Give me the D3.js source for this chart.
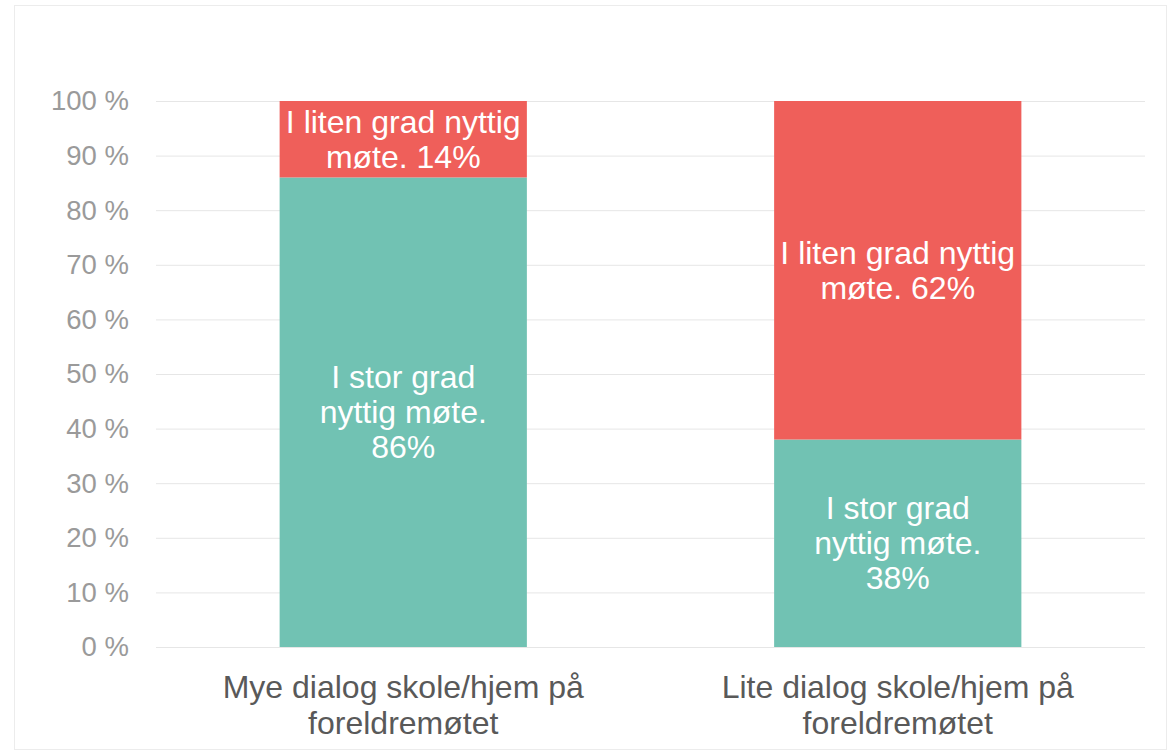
<!DOCTYPE html>
<html>
<head>
<meta charset="utf-8">
<script src="https://cdn.jsdelivr.net/npm/d3@7"></script>
<style>
    body { margin: 0; background: #fff; }
    text { font-family: "Liberation Sans", Arial, sans-serif; }
</style>
</head>
<body>
<div id="chart"></div>
<script>
// chart data
const categories = [
    ['Mye dialog skole/hjem på', 'foreldremøtet'],
    ['Lite dialog skole/hjem på', 'foreldremøtet']
];
const storGrad = [86, 38];
const litenGrad = [14, 62];
const yTicks = [0, 10, 20, 30, 40, 50, 60, 70, 80, 90, 100];

document.addEventListener('DOMContentLoaded', function () {
    drawChart();
});

function drawChart() {
    const width = 1171;
    const height = 752;
    const margin = { top: 101, right: 26, bottom: 105, left: 156 };

    const svg = d3.select('#chart').append('svg').attr('width', width).attr('height', height);

    // light frame round the chart
    svg.append('rect')
        .attr('x', 14.5).attr('y', 5.5)
        .attr('width', 1152).attr('height', 744)
        .attr('fill', 'none')
        .attr('stroke', '#ececec');

    const x = d3.scaleBand()
        .domain(d3.range(categories.length))
        .range([margin.left, width - margin.right])
        .paddingInner(0.5)
        .paddingOuter(0.25);

    const y = d3.scaleLinear()
        .domain([0, 100])
        .range([height - margin.bottom, margin.top]);

    // gridlines + y labels
    const yAxis = svg.append('g')
        .attr('transform', `translate(${margin.left},0)`)
        .call(d3.axisLeft(y)
            .tickValues(yTicks)
            .tickSize(-(width - margin.right - margin.left))
            .tickPadding(27)
            .tickFormat(d => d + ' %'));
    yAxis.select('.domain').remove();
    yAxis.selectAll('.tick line').attr('stroke', '#e6e6e6');
    yAxis.selectAll('.tick text')
        .attr('fill', '#9a9a9a')
        .style('font-size', '27.5px');

    // stacked series
    const stack = categories.map((c, i) => [
        { y0: 0, y1: storGrad[i], color: '#71c2b3',
          lines: ['I stor grad', 'nyttig møte.', storGrad[i] + '%'] },
        { y0: storGrad[i], y1: storGrad[i] + litenGrad[i], color: '#ef5f5a',
          lines: ['I liten grad nyttig', 'møte. ' + litenGrad[i] + '%'] }
    ].map(s => Object.assign(s, { i: i })));

    const segs = svg.append('g').selectAll('g')
        .data(stack.flat())
        .enter()
        .append('g');

    segs.append('rect')
        .attr('x', d => x(d.i))
        .attr('width', x.bandwidth())
        .attr('y', d => y(d.y1))
        .attr('height', d => y(d.y0) - y(d.y1))
        .attr('fill', d => d.color);

    const lineH = 35;
    segs.append('text')
        .attr('text-anchor', 'middle')
        .attr('fill', '#fff')
        .style('font-size', '32px')
        .each(function (d) {
            const cy = (y(d.y0) + y(d.y1)) / 2;
            const top = cy - (d.lines.length - 1) * lineH / 2;
            d3.select(this).selectAll('tspan')
                .data(d.lines)
                .enter()
                .append('tspan')
                .attr('x', x(d.i) + x.bandwidth() / 2)
                .attr('y', (l, k) => top + k * lineH)
                .attr('dy', '0.35em')
                .text(l => l);
        });

    // category labels
    svg.append('g').selectAll('text')
        .data(categories)
        .enter()
        .append('text')
        .attr('text-anchor', 'middle')
        .attr('fill', '#595959')
        .style('font-size', '32px')
        .each(function (d, i) {
            d3.select(this).selectAll('tspan')
                .data(d)
                .enter()
                .append('tspan')
                .attr('x', x(i) + x.bandwidth() / 2)
                .attr('y', (l, k) => 698 + k * 36)
                .text(l => l);
        });
}
</script>
</body>
</html>
